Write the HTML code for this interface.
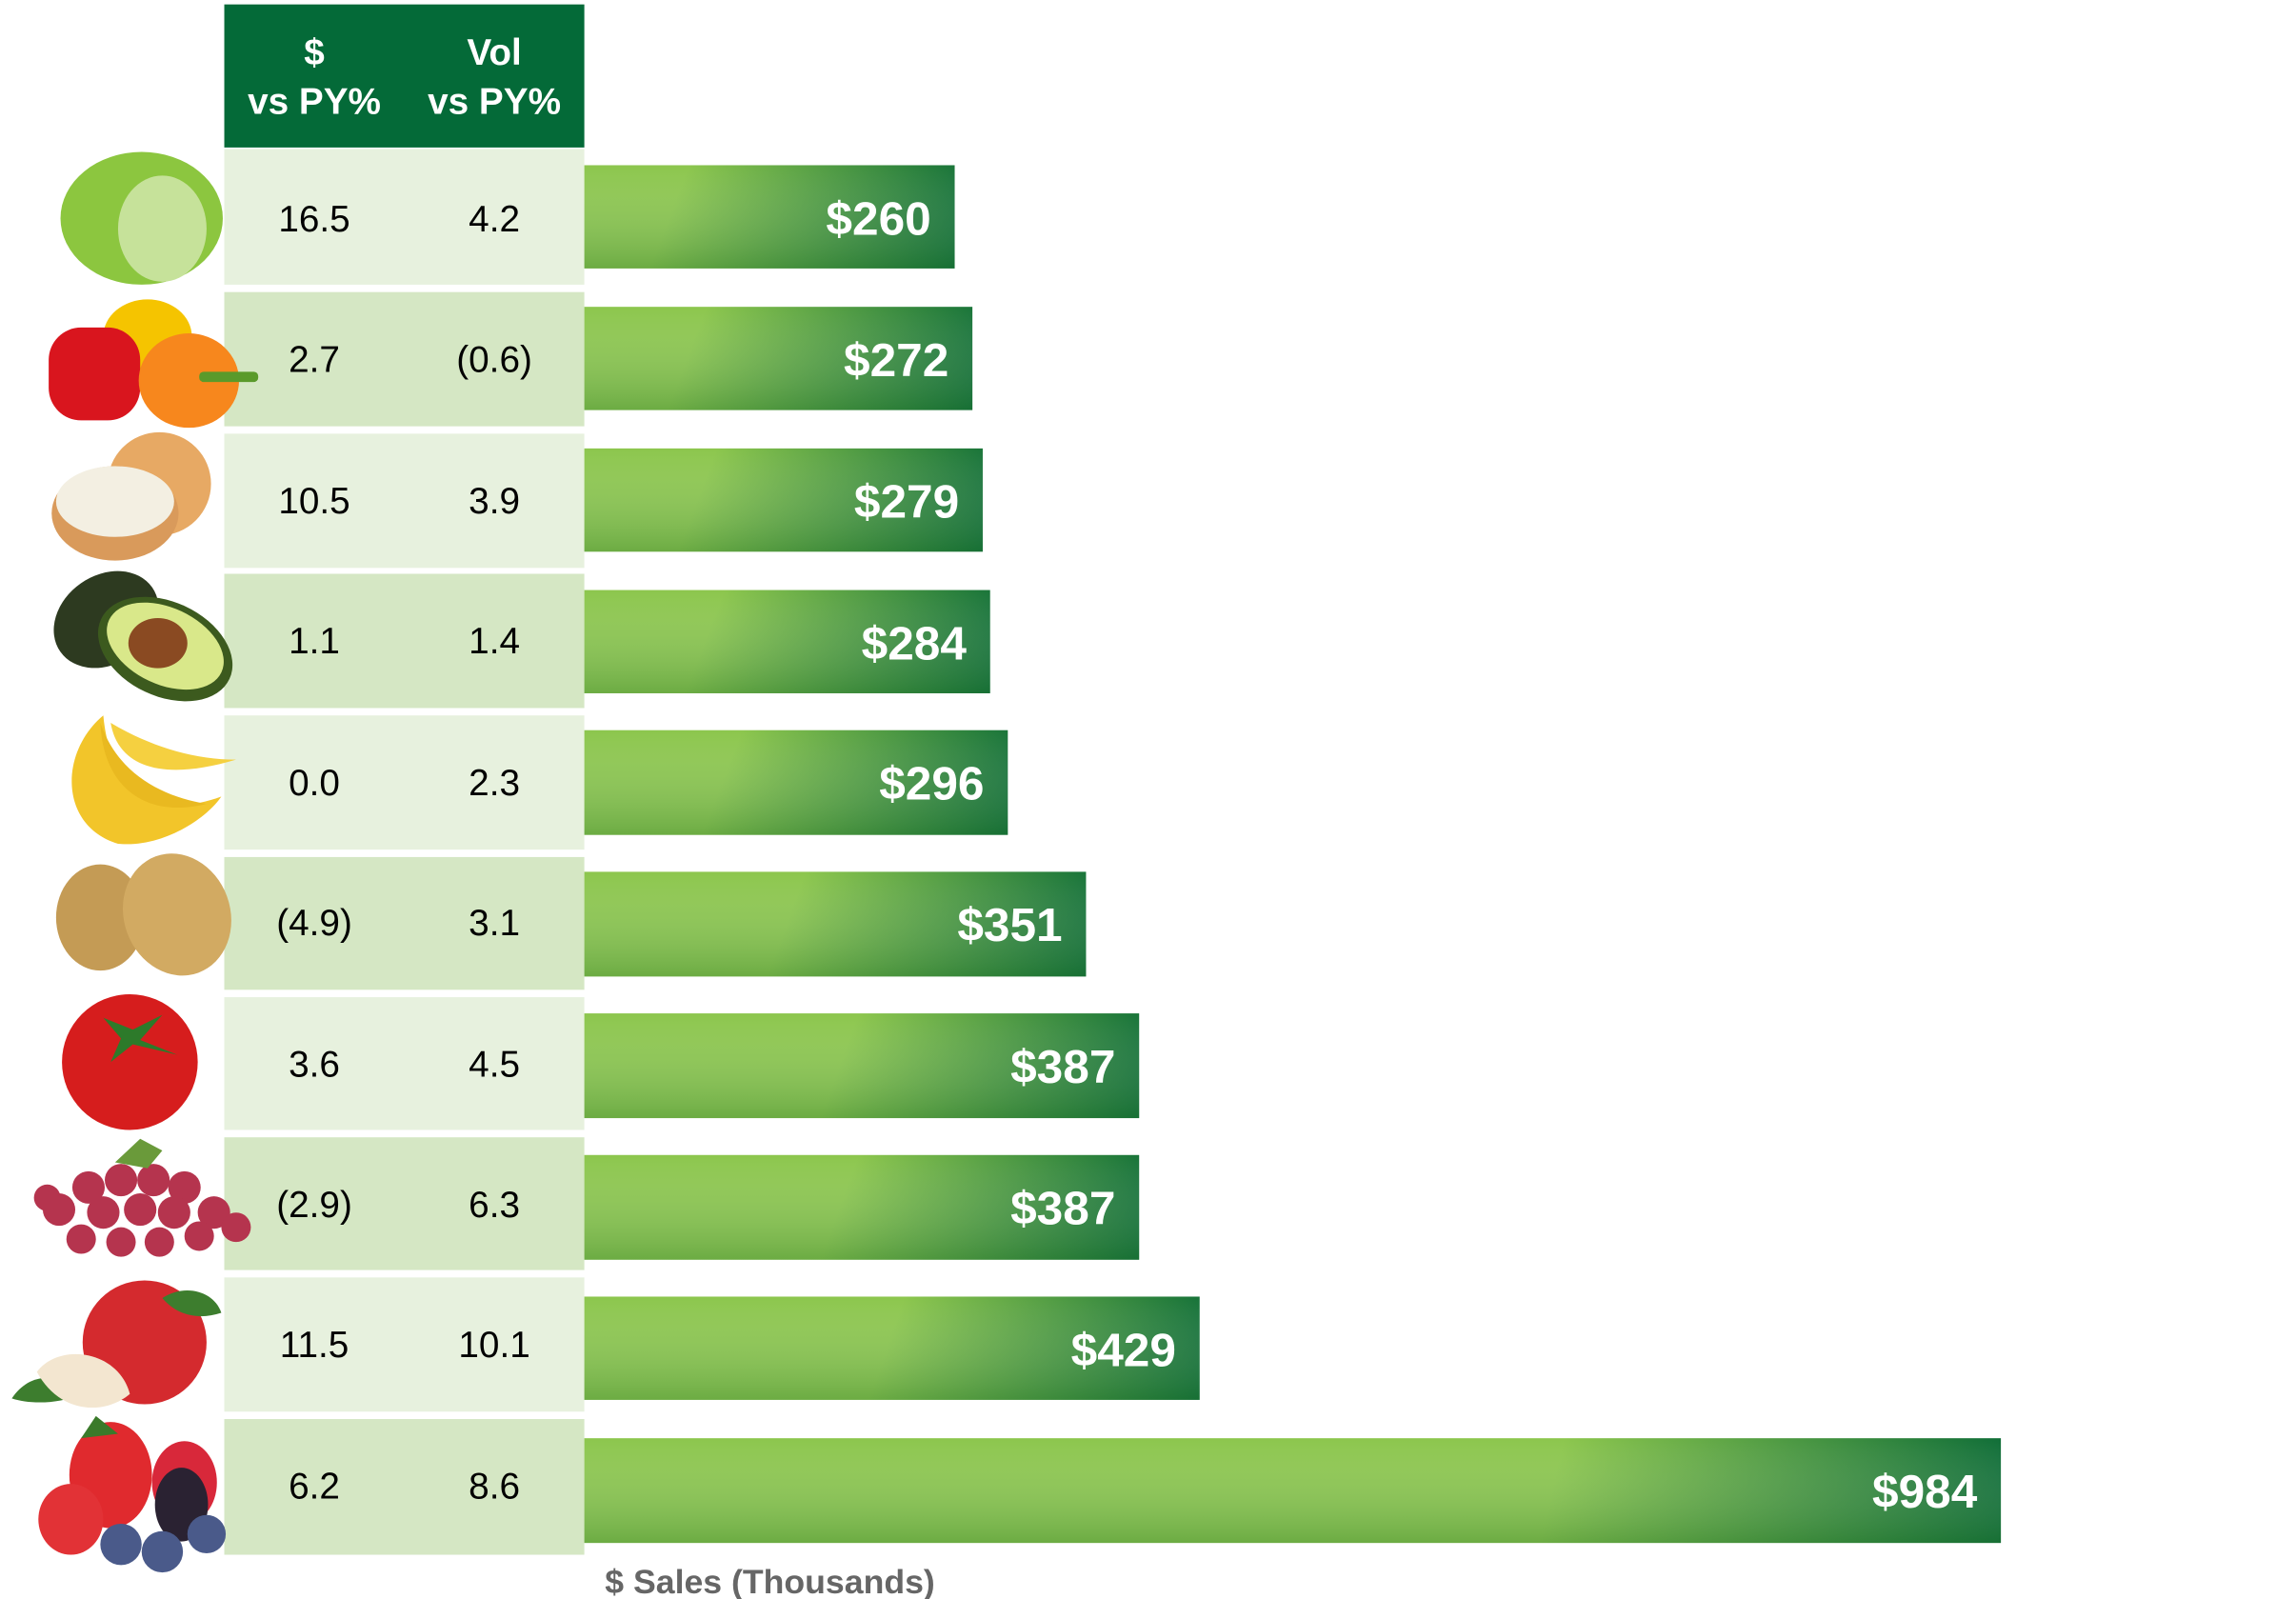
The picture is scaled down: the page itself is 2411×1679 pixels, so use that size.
<!DOCTYPE html>
<html><head><meta charset="utf-8"><style>
html,body{margin:0;padding:0;background:#fff;}
svg{display:block;}
text{font-family:"Liberation Sans",Arial,sans-serif;}
</style></head><body>
<svg width="2411" height="1679" viewBox="0 0 1556 1084" preserveAspectRatio="none" xmlns="http://www.w3.org/2000/svg">
<defs>
<linearGradient id="v" x1="0" y1="0" x2="0" y2="1">
<stop offset="0" stop-color="#fff" stop-opacity="0"/>
<stop offset="1" stop-color="#2f7a2f" stop-opacity="0.35"/>
</linearGradient>
<linearGradient id="g0" gradientUnits="userSpaceOnUse" x1="467" y1="112" x2="647" y2="182"><stop offset="0" stop-color="#8cc64d"/><stop offset="1" stop-color="#096936"/></linearGradient>
<linearGradient id="g1" gradientUnits="userSpaceOnUse" x1="479" y1="208" x2="659" y2="278"><stop offset="0" stop-color="#8cc64d"/><stop offset="1" stop-color="#096936"/></linearGradient>
<linearGradient id="g2" gradientUnits="userSpaceOnUse" x1="486" y1="304" x2="666" y2="374"><stop offset="0" stop-color="#8cc64d"/><stop offset="1" stop-color="#096936"/></linearGradient>
<linearGradient id="g3" gradientUnits="userSpaceOnUse" x1="491" y1="400" x2="671" y2="470"><stop offset="0" stop-color="#8cc64d"/><stop offset="1" stop-color="#096936"/></linearGradient>
<linearGradient id="g4" gradientUnits="userSpaceOnUse" x1="503" y1="495" x2="683" y2="566"><stop offset="0" stop-color="#8cc64d"/><stop offset="1" stop-color="#096936"/></linearGradient>
<linearGradient id="g5" gradientUnits="userSpaceOnUse" x1="546" y1="591" x2="736" y2="662"><stop offset="0" stop-color="#8cc64d"/><stop offset="1" stop-color="#096936"/></linearGradient>
<linearGradient id="g6" gradientUnits="userSpaceOnUse" x1="582" y1="687" x2="772" y2="758"><stop offset="0" stop-color="#8cc64d"/><stop offset="1" stop-color="#096936"/></linearGradient>
<linearGradient id="g7" gradientUnits="userSpaceOnUse" x1="582" y1="783" x2="772" y2="854"><stop offset="0" stop-color="#8cc64d"/><stop offset="1" stop-color="#096936"/></linearGradient>
<linearGradient id="g8" gradientUnits="userSpaceOnUse" x1="613" y1="879" x2="813" y2="949"><stop offset="0" stop-color="#8cc64d"/><stop offset="1" stop-color="#096936"/></linearGradient>
<linearGradient id="g9" gradientUnits="userSpaceOnUse" x1="1060" y1="975" x2="1356" y2="1046"><stop offset="0" stop-color="#8cc64d"/><stop offset="1" stop-color="#096936"/></linearGradient>
</defs>
<rect width="1556" height="1084" fill="#fff"/>
<rect x="152" y="3" width="244" height="97" fill="#046a38"/>
<g fill="#fff" font-weight="bold" font-size="25" text-anchor="middle">
<text x="213" y="44">$</text><text x="213" y="77">vs PY%</text>
<text x="335" y="44">Vol</text><text x="335" y="77">vs PY%</text>
</g>
<g>
<rect x="152" y="101" width="244" height="92" fill="#e7f1de"/>
<rect x="152" y="198" width="244" height="91" fill="#d5e7c4"/>
<rect x="152" y="294" width="244" height="91" fill="#e7f1de"/>
<rect x="152" y="389" width="244" height="91" fill="#d5e7c4"/>
<rect x="152" y="485" width="244" height="91" fill="#e7f1de"/>
<rect x="152" y="581" width="244" height="90" fill="#d5e7c4"/>
<rect x="152" y="676" width="244" height="90" fill="#e7f1de"/>
<rect x="152" y="771" width="244" height="90" fill="#d5e7c4"/>
<rect x="152" y="866" width="244" height="91" fill="#e7f1de"/>
<rect x="152" y="962" width="244" height="92" fill="#d5e7c4"/>
</g>
<g font-size="25" text-anchor="middle" fill="#000">
<text x="213" y="157">16.5</text><text x="335" y="157">4.2</text>
<text x="213" y="252">2.7</text><text x="335" y="252">(0.6)</text>
<text x="213" y="348">10.5</text><text x="335" y="348">3.9</text>
<text x="213" y="443">1.1</text><text x="335" y="443">1.4</text>
<text x="213" y="539">0.0</text><text x="335" y="539">2.3</text>
<text x="213" y="634">(4.9)</text><text x="335" y="634">3.1</text>
<text x="213" y="730">3.6</text><text x="335" y="730">4.5</text>
<text x="213" y="825">(2.9)</text><text x="335" y="825">6.3</text>
<text x="213" y="920">11.5</text><text x="335" y="920">10.1</text>
<text x="213" y="1016">6.2</text><text x="335" y="1016">8.6</text>
</g>
<g>
<rect x="396" y="112" width="251" height="70" fill="url(#g0)"/>
<rect x="396" y="208" width="263" height="70" fill="url(#g1)"/>
<rect x="396" y="304" width="270" height="70" fill="url(#g2)"/>
<rect x="396" y="400" width="275" height="70" fill="url(#g3)"/>
<rect x="396" y="495" width="287" height="71" fill="url(#g4)"/>
<rect x="396" y="591" width="340" height="71" fill="url(#g5)"/>
<rect x="396" y="687" width="376" height="71" fill="url(#g6)"/>
<rect x="396" y="783" width="376" height="71" fill="url(#g7)"/>
<rect x="396" y="879" width="417" height="70" fill="url(#g8)"/>
<rect x="396" y="975" width="960" height="71" fill="url(#g9)"/>
</g>
<g fill="url(#v)">
<rect x="396" y="112" width="251" height="70"/>
<rect x="396" y="208" width="263" height="70"/>
<rect x="396" y="304" width="270" height="70"/>
<rect x="396" y="400" width="275" height="70"/>
<rect x="396" y="495" width="287" height="71"/>
<rect x="396" y="591" width="340" height="71"/>
<rect x="396" y="687" width="376" height="71"/>
<rect x="396" y="783" width="376" height="71"/>
<rect x="396" y="879" width="417" height="70"/>
<rect x="396" y="975" width="960" height="71"/>
</g>
<g fill="#fff" font-weight="bold" font-size="32" text-anchor="end">
<text x="631" y="159">$260</text>
<text x="643" y="255">$272</text>
<text x="650" y="351">$279</text>
<text x="655" y="447">$284</text>
<text x="667" y="542">$296</text>
<text x="720" y="638">$351</text>
<text x="756" y="734">$387</text>
<text x="756" y="830">$387</text>
<text x="797" y="926">$429</text>
<text x="1340" y="1022">$984</text>
</g>
<text x="410" y="1080" font-size="23" font-weight="bold" fill="#666">$ Sales (Thousands)</text>
<ellipse cx="96" cy="148" rx="55" ry="45" fill="#8cc63f"/>
<ellipse cx="110" cy="155" rx="30" ry="36" fill="#c6e29a"/>
<ellipse cx="100" cy="228" rx="30" ry="25" fill="#f5c400"/>
<rect x="33" y="222" width="62" height="63" rx="22" fill="#d9151e"/>
<ellipse cx="128" cy="258" rx="34" ry="32" fill="#f7871d"/>
<rect x="135" y="252" width="40" height="7" rx="3" fill="#5a9a2b"/>
<circle cx="108" cy="328" r="35" fill="#e7a964"/>
<ellipse cx="78" cy="348" rx="43" ry="32" fill="#d99a5b"/>
<ellipse cx="78" cy="340" rx="40" ry="24" fill="#f3efe2"/>
<ellipse cx="72" cy="420" rx="38" ry="30" fill="#2d3a20" transform="rotate(-35 72 420)"/>
<ellipse cx="112" cy="440" rx="48" ry="32" fill="#3c5a1e" transform="rotate(25 112 440)"/>
<ellipse cx="112" cy="438" rx="42" ry="26" fill="#d9e88a" transform="rotate(25 112 438)"/>
<ellipse cx="107" cy="436" rx="20" ry="17" fill="#8a4a22"/>
<path d="M70 485 C40 510 40 560 80 572 C110 575 140 555 150 540 C110 555 75 540 70 485Z" fill="#f2c52a"/>
<path d="M75 490 C80 520 110 530 160 515 C130 515 100 505 75 490Z" fill="#f5d040"/>
<path d="M68 490 C70 535 100 555 140 545 C110 540 80 525 68 490Z" fill="#e9b920"/>
<ellipse cx="68" cy="622" rx="30" ry="36" fill="#c49b55"/>
<ellipse cx="120" cy="620" rx="36" ry="42" fill="#d2aa62" transform="rotate(-20 120 620)"/>
<circle cx="88" cy="720" r="46" fill="#d61d1d"/>
<path d="M70 690 L90 698 L110 688 L95 705 L120 715 L90 708 L75 720 L82 704Z" fill="#2d7a2a"/>
<g fill="#b5344e">
<circle cx="60" cy="805" r="11"/><circle cx="82" cy="800" r="11"/><circle cx="104" cy="800" r="11"/><circle cx="125" cy="805" r="11"/>
<circle cx="40" cy="820" r="11"/><circle cx="70" cy="822" r="11"/><circle cx="95" cy="820" r="11"/><circle cx="118" cy="822" r="11"/><circle cx="145" cy="822" r="11"/>
<circle cx="55" cy="840" r="10"/><circle cx="82" cy="842" r="10"/><circle cx="108" cy="842" r="10"/><circle cx="135" cy="838" r="10"/><circle cx="160" cy="832" r="10"/>
<circle cx="32" cy="812" r="9"/>
</g>
<path d="M78 788 L95 772 L110 780 L100 792Z" fill="#6a9a3a"/>
<circle cx="98" cy="910" r="42" fill="#d42a2e"/>
<path d="M8 948 C20 930 40 930 55 945 C40 952 20 952 8 948Z" fill="#3d7d2e"/>
<path d="M110 880 C125 870 145 875 150 890 C135 895 120 892 110 880Z" fill="#3d7d2e"/>
<path d="M25 930 C40 910 80 915 88 945 C70 960 40 958 25 930Z" fill="#f3e6d0"/>
<ellipse cx="75" cy="1000" rx="28" ry="36" fill="#e02a2e"/>
<ellipse cx="48" cy="1030" rx="22" ry="24" fill="#e23236"/>
<ellipse cx="125" cy="1005" rx="22" ry="28" fill="#d8283a"/>
<ellipse cx="123" cy="1020" rx="18" ry="25" fill="#2a2232"/>
<circle cx="82" cy="1047" r="14" fill="#4a5a8a"/>
<circle cx="110" cy="1052" r="14" fill="#4a5a8a"/>
<circle cx="140" cy="1040" r="13" fill="#4a5a8a"/>
<path d="M55 975 L65 960 L80 972Z" fill="#3a7a2a"/>
</svg>
</body></html>
